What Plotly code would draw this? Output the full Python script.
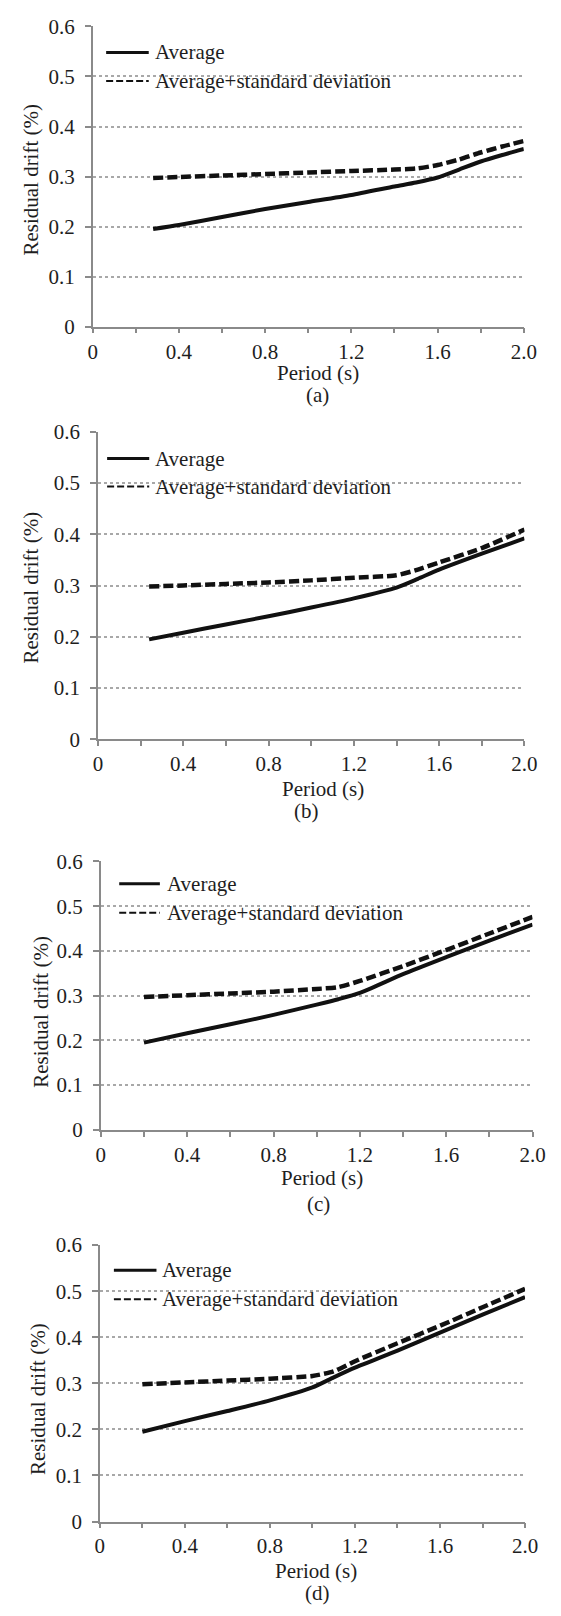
import plotly.graph_objects as go

W, H = 561, 1616

# Residual drift (%) vs. period (s) for four cases (a)-(d)
period_a = [0.28, 0.4, 0.6, 0.8, 1.0, 1.2, 1.4, 1.5, 1.6, 1.7, 1.8, 1.9, 2.0]
avg_a = [0.195, 0.203, 0.219, 0.235, 0.249, 0.263, 0.280, 0.288, 0.298, 0.314, 0.330, 0.343, 0.355]
std_a = [0.297, 0.299, 0.302, 0.305, 0.308, 0.311, 0.314, 0.316, 0.323, 0.334, 0.348, 0.360, 0.371]

period_b = [0.24, 0.4, 0.6, 0.8, 1.0, 1.2, 1.4, 1.5, 1.6, 1.8, 2.0]
avg_b = [0.195, 0.208, 0.224, 0.240, 0.257, 0.275, 0.296, 0.313, 0.331, 0.362, 0.392]
std_b = [0.298, 0.300, 0.303, 0.306, 0.310, 0.315, 0.320, 0.331, 0.345, 0.373, 0.409]

period_c = [0.2, 0.4, 0.6, 0.8, 1.0, 1.1, 1.2, 1.4, 1.6, 1.8, 2.0]
avg_c = [0.195, 0.216, 0.236, 0.257, 0.280, 0.292, 0.306, 0.348, 0.386, 0.423, 0.459]
std_c = [0.297, 0.301, 0.305, 0.309, 0.315, 0.319, 0.333, 0.366, 0.402, 0.439, 0.476]

period_d = [0.2, 0.4, 0.6, 0.8, 1.0, 1.1, 1.2, 1.4, 1.6, 1.8, 2.0]
avg_d = [0.195, 0.218, 0.240, 0.263, 0.291, 0.313, 0.334, 0.371, 0.410, 0.449, 0.487]
std_d = [0.298, 0.302, 0.306, 0.310, 0.316, 0.326, 0.348, 0.387, 0.425, 0.465, 0.505]

x_tickvals = [0, 0.2, 0.4, 0.6, 0.8, 1.0, 1.2, 1.4, 1.6, 1.8, 2.0]
x_ticktext = ["0", "", "0.4", "", "0.8", "", "1.2", "", "1.6", "", "2.0"]
y_tickvals = [0, 0.1, 0.2, 0.3, 0.4, 0.5, 0.6]
y_ticktext = ["0", "0.1", "0.2", "0.3", "0.4", "0.5", "0.6"]

panel_labels = ["(a)", "(b)", "(c)", "(d)"]
series_names = ["Average", "Average+standard deviation"]
x_title = "Period (s)"
y_title = "Residual drift (%)"

panels = [
    (period_a, avg_a, std_a),
    (period_b, avg_b, std_b),
    (period_c, avg_c, std_c),
    (period_d, avg_d, std_d),
]

# Plot-area boxes in pixels: left, right, top, bottom
boxes = [
    (90.7, 536.0, 14.7, 319.3),
    (96.0, 536.7, 426.0, 738.3),
    (99.0, 545.0, 862.3, 1134.7),
    (98.0, 537.3, 1251.7, 1532.3),
]
# Per-panel text placement (pixels)
ytitle_pos = [(27, 170), (27, 584), (37, 1015), (34, 1408)]
xtitle_pos = [(323, 366), (329, 789), (327, 1184), (321, 1582)]
label_pos = [(323, 389), (312, 811), (324, 1210), (323, 1605)]
legend_pos = [  # x0, x1, text x, y solid, y dashed
    (104.5, 148.5, 152.5, 41.0, 70.0),
    (105.5, 149.0, 153.0, 453.3, 481.7),
    (118.0, 160.0, 165.0, 885.0, 914.3),
    (112.5, 156.5, 160.0, 1277.3, 1306.7),
]

FONT = "Liberation Serif"
FS = 21
TXT = "#1e1e1e"
AXC = "#8a8a8a"


def px(x):
    return x / W


def py(y):
    return 1 - y / H


def tfont():
    return dict(family=FONT, size=FS, color=TXT)


fig = go.Figure()
layout = dict(
    width=W, height=H,
    margin=dict(l=0, r=0, t=0, b=0),
    paper_bgcolor="white", plot_bgcolor="white",
    showlegend=False,
    font=tfont(),
)
annotations = []
shapes = []

for i, ((per, avg, std), (l, r, t, b)) in enumerate(zip(panels, boxes)):
    n = "" if i == 0 else str(i + 1)
    xa, ya = "x" + n, "y" + n
    layout["xaxis" + n] = dict(
        domain=[px(l), px(r)], anchor=ya, range=[0, 2.0],
        tickmode="array", tickvals=x_tickvals, ticktext=x_ticktext,
        showline=True, linecolor=AXC, linewidth=1.5,
        ticks="outside", ticklen=5, tickwidth=1.5, tickcolor=AXC,
        showgrid=False, zeroline=False,
        tickfont=tfont(),
        ticklabelstandoff=0,
    )
    layout["yaxis" + n] = dict(
        domain=[py(b), py(t)], anchor=xa, range=[0, 0.6],
        tickmode="array", tickvals=y_tickvals, ticktext=y_ticktext,
        showline=True, linecolor=AXC, linewidth=1.5,
        ticks="outside", ticklen=6, tickwidth=1.5, tickcolor=AXC,
        showgrid=True, gridcolor="#a8a8a8", gridwidth=1.5, griddash="dot",
        zeroline=False,
        tickfont=tfont(),
        ticklabelstandoff=6,
    )
    fig.add_trace(go.Scatter(
        x=per, y=avg, mode="lines", name=series_names[0],
        line=dict(color="#111111", width=4, shape="spline", smoothing=0.6),
        xaxis=xa, yaxis=ya,
    ))
    fig.add_trace(go.Scatter(
        x=per, y=std, mode="lines", name=series_names[1],
        line=dict(color="#111111", width=4.5, dash="10px,4px", shape="spline", smoothing=0.6),
        xaxis=xa, yaxis=ya,
    ))

    # axis titles and panel label
    yx, yy = ytitle_pos[i]
    annotations.append(dict(text=y_title, x=px(yx), y=py(yy), xref="paper", yref="paper",
                            textangle=-90, showarrow=False, xanchor="center", yanchor="middle",
                            font=tfont()))
    tx, ty = xtitle_pos[i]
    annotations.append(dict(text=x_title, x=px(tx), y=py(ty), xref="paper", yref="paper",
                            showarrow=False, xanchor="center", yanchor="middle",
                            font=tfont()))
    lx, ly = label_pos[i]
    annotations.append(dict(text=panel_labels[i], x=px(lx), y=py(ly), xref="paper", yref="paper",
                            showarrow=False, xanchor="center", yanchor="middle",
                            font=tfont()))

    # in-plot legend
    x0, x1, xt, ys, yd = legend_pos[i]
    shapes.append(dict(type="line", xref="paper", yref="paper",
                       x0=px(x0), x1=px(x1), y0=py(ys), y1=py(ys),
                       line=dict(color="#111111", width=3)))
    shapes.append(dict(type="line", xref="paper", yref="paper",
                       x0=px(x0), x1=px(x1), y0=py(yd), y1=py(yd),
                       line=dict(color="#111111", width=2, dash="7px,3px")))
    annotations.append(dict(text=series_names[0], x=px(xt), y=py(ys), xref="paper", yref="paper",
                            showarrow=False, xanchor="left", yanchor="middle",
                            font=tfont()))
    annotations.append(dict(text=series_names[1], x=px(xt), y=py(yd), xref="paper", yref="paper",
                            showarrow=False, xanchor="left", yanchor="middle",
                            font=tfont()))

layout["annotations"] = annotations
layout["shapes"] = shapes
fig.update_layout(**layout)
# page body without default margin so the figure fills the window exactly
fig.write_html("out.html", post_script="document.body.style.margin='0';")
